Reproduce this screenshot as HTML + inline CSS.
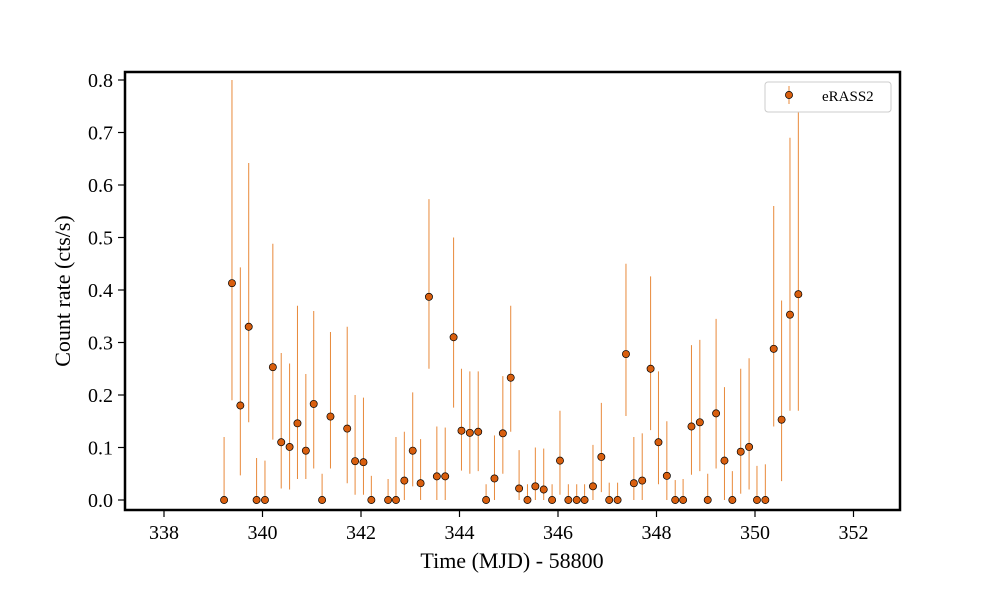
<!DOCTYPE html>
<html><head><meta charset="utf-8"><style>
body{margin:0;background:#fff}
svg text{font-family:"Liberation Serif",serif;fill:#000}
</style></head><body>
<svg id="chart" width="1000" height="600" viewBox="0 0 1000 600" xmlns="http://www.w3.org/2000/svg">
<rect x="0" y="0" width="1000" height="600" fill="#fff"/>
<g id="marks"></g>
<g id="axes"></g>
<rect x="125" y="72" width="775" height="438" fill="none" stroke="#000" stroke-width="2.5"/>
<text x="512" y="568" font-size="22" text-anchor="middle">Time (MJD) - 58800</text>
<text transform="translate(70,291) rotate(-90)" font-size="22" text-anchor="middle">Count rate (cts/s)</text>
<g>
<rect x="765" y="82" width="126" height="30" rx="3" fill="#fff" stroke="#ccc" stroke-width="1"/>
<line x1="789" y1="86" x2="789" y2="104" stroke="#e8893a" stroke-width="1"/>
<circle cx="789" cy="95" r="3.6" fill="#d95f0e" stroke="#000" stroke-width="0.7"/>
<text x="822" y="101" font-size="15">eRASS2</text>
</g>
</svg>
<script>
const times=[339.22,339.38,339.55,339.72,339.88,340.05,340.21,340.38,340.55,340.71,340.88,341.04,341.21,341.38,341.72,341.88,342.05,342.21,342.55,342.71,342.88,343.05,343.21,343.38,343.54,343.71,343.88,344.04,344.21,344.38,344.54,344.71,344.88,345.04,345.21,345.38,345.54,345.71,345.88,346.04,346.21,346.38,346.54,346.71,346.88,347.04,347.21,347.38,347.54,347.71,347.88,348.04,348.21,348.38,348.54,348.71,348.88,349.04,349.21,349.38,349.54,349.71,349.88,350.04,350.21,350.38,350.54,350.71,350.88];
const rates=[0.0,0.413,0.18,0.33,0.0,0.0,0.253,0.11,0.101,0.146,0.094,0.183,0.0,0.159,0.136,0.074,0.072,0.0,0.0,0.0,0.037,0.094,0.032,0.387,0.045,0.045,0.31,0.132,0.128,0.13,0.0,0.041,0.127,0.233,0.022,0.0,0.026,0.02,0.0,0.075,0.0,0.0,0.0,0.026,0.082,0.0,0.0,0.278,0.032,0.037,0.25,0.11,0.046,0.0,0.0,0.14,0.148,0.0,0.165,0.075,0.0,0.092,0.101,0.0,0.0,0.288,0.153,0.353,0.392];
const errLow=[0.0,0.19,0.047,0.148,0.0,0.0,0.115,0.022,0.02,0.04,0.04,0.06,0.0,0.06,0.032,0.01,0.01,0.0,0.0,0.0,0.0,0.026,0.0,0.25,0.0,0.0,0.176,0.056,0.05,0.055,0.0,0.0,0.05,0.13,0.0,0.0,0.0,0.0,0.0,0.01,0.0,0.0,0.0,0.0,0.015,0.0,0.0,0.16,0.0,0.0,0.133,0.03,0.0,0.0,0.0,0.048,0.055,0.0,0.06,0.0,0.0,0.012,0.02,0.0,0.0,0.14,0.036,0.17,0.17];
const errHigh=[0.12,0.8,0.443,0.642,0.08,0.075,0.488,0.28,0.26,0.37,0.24,0.36,0.05,0.32,0.33,0.2,0.195,0.046,0.04,0.12,0.13,0.205,0.116,0.573,0.14,0.138,0.5,0.25,0.245,0.245,0.03,0.123,0.236,0.37,0.095,0.03,0.1,0.098,0.03,0.17,0.03,0.03,0.03,0.105,0.185,0.033,0.033,0.45,0.12,0.127,0.426,0.245,0.15,0.038,0.04,0.295,0.305,0.05,0.345,0.215,0.055,0.25,0.27,0.065,0.068,0.56,0.38,0.69,0.76];
const xTicks=[338,340,342,344,346,348,350,352];
const yTicks=[0.0,0.1,0.2,0.3,0.4,0.5,0.6,0.7,0.8];
const NS="http://www.w3.org/2000/svg";
function xs(v){return 164+(v-338)*49.25;}
function ys(v){return 500-v*525;}
const marks=document.getElementById('marks');
const axes=document.getElementById('axes');
function mk(tag,attrs,parent){const e=document.createElementNS(NS,tag);for(const k in attrs)e.setAttribute(k,attrs[k]);parent.appendChild(e);return e;}
for(let i=0;i<times.length;i++){
  const x=xs(times[i]);
  const l=mk('line',{x1:x,x2:x,y1:ys(errLow[i]),y2:ys(errHigh[i]),stroke:'#e8893a','stroke-width':1},marks);
  
  
}
for(let i=0;i<times.length;i++){
  const c=mk('circle',{cx:xs(times[i]),cy:ys(rates[i]),r:3.6,fill:'#d95f0e',stroke:'#000','stroke-width':0.7},marks);
  
  
}
xTicks.forEach(t=>{
  const x=xs(t);
  const tk=mk('line',{x1:x,x2:x,y1:510,y2:517,stroke:'#000','stroke-width':1.2},axes);
  
  
  const tx=mk('text',{x:x,y:539,'font-size':20,'text-anchor':'middle'},axes);
  tx.textContent=String(t);
  
  
});
yTicks.forEach(t=>{
  const y=ys(t);
  const tk=mk('line',{x1:118,x2:125,y1:y,y2:y,stroke:'#000','stroke-width':1.2},axes);
  
  
  const tx=mk('text',{x:113,y:y+7,'font-size':20,'text-anchor':'end'},axes);
  tx.textContent=t.toFixed(1);
  
  
});
</script>
</body></html>
